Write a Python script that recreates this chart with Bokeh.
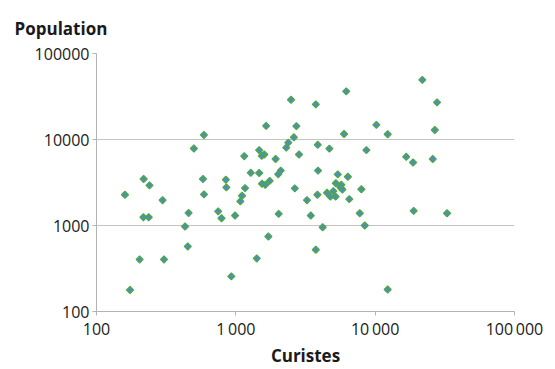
import math
from bokeh.plotting import figure
from bokeh.models import Range1d, FixedTicker, ColumnDataSource, Title
from bokeh.embed import file_html
from bokeh.resources import INLINE

# Data
curistes = [590, 500, 1150, 1280, 218, 6200, 2490, 3750, 1650, 2720,
            10200, 12300, 5980, 2610, 2380, 2300, 3870, 4690, 8650, 1470,
            1600, 1535, 2840, 1930, 2100, 2015, 1470, 3890, 5390, 6370,
            1750, 21800, 27800, 26800, 16700, 18700, 25900, 240, 581, 848,
            855, 1164, 160, 591, 1108, 1077, 298, 458, 747, 789,
            987, 217, 237, 432, 452, 204, 305, 928, 174, 1542,
            1626, 2650, 3850, 3240, 4510, 4770, 5010, 5200, 5220, 5710,
            5630, 5815, 7960, 6520, 2030, 3450, 7755, 4200, 8420, 1712,
            3750, 1413, 12300, 18900, 32800]
population = [11300, 7850, 6400, 4100, 3470, 36300, 29000, 25600, 14400, 14300,
              14800, 11500, 11600, 10600, 9200, 8050, 8670, 7830, 7520, 7520,
              6690, 6460, 6690, 5930, 4350, 3950, 4080, 4350, 3930, 3690,
              3300, 49400, 27000, 12900, 6290, 5400, 5920, 2930, 3470, 3410,
              2775, 2720, 2280, 2300, 2220, 1910, 1970, 1400, 1460, 1214,
              1305, 1250, 1247, 973, 571, 403, 403, 256, 178, 3060,
              2970, 2700, 2280, 1970, 2400, 2165, 2510, 2165, 3100, 2980,
              2775, 2620, 2640, 2025, 1365, 1305, 1387, 955, 1000, 745,
              523, 414, 180, 1480, 1387]

x_ticks = [100, 1000, 10000, 100000]
x_tick_labels = ["100", "1\u2009000", "10\u2009000", "100\u2009000"]
y_ticks = [100, 1000, 10000, 100000]
y_tick_labels = ["100", "1000", "10000", "100000"]
x_title = "Curistes"
y_title = "Population"

FONT = "Open Sans"

p = figure(width=555, height=369, x_axis_type="log", y_axis_type="log",
           x_range=Range1d(100, 100000), y_range=Range1d(100, 100000),
           output_backend="svg", toolbar_location=None,
           min_border_left=96, min_border_right=41, min_border_top=53,
           min_border_bottom=57)
p.outline_line_color = None
p.background_fill_color = "white"
p.border_fill_color = "white"

src = ColumnDataSource(dict(x=curistes, y=population))
p.scatter("x", "y", source=src, marker="square", angle=math.pi / 4, size=5,
          fill_color="#4f8cc0", line_color="#4fab3a", line_width=1.2)

# axes
xa = p.xaxis[0]
xa.ticker = FixedTicker(ticks=x_ticks, minor_ticks=[])
xa.major_label_overrides = {t: l for t, l in zip(x_ticks, x_tick_labels)}
ya = p.yaxis[0]
ya.ticker = FixedTicker(ticks=y_ticks, minor_ticks=[])
ya.major_label_overrides = {t: l for t, l in zip(y_ticks, y_tick_labels)}
for ax in (xa, ya):
    ax.axis_line_color = "#b3b3b3"
    ax.axis_line_width = 1
    ax.major_tick_line_color = "#b3b3b3"
    ax.major_tick_out = 4
    ax.major_tick_in = 0
    ax.minor_tick_line_color = None
    ax.major_label_text_font = FONT
    ax.major_label_text_font_size = "16px"
    ax.major_label_text_color = "#1a1a1a"
xa.major_label_standoff = 2
ya.major_label_standoff = 3

xa.axis_label = x_title
xa.axis_label_text_font = FONT
xa.axis_label_text_font_style = "bold"
xa.axis_label_text_font_size = "17px"
xa.axis_label_text_color = "#1a1a1a"
xa.axis_label_standoff = 1

p.xgrid.grid_line_color = None
p.ygrid.grid_line_color = "#c4c4c4"
p.ygrid.grid_line_width = 1.2
p.ygrid.ticker = FixedTicker(ticks=y_ticks, minor_ticks=[])

p.add_layout(Title(text=y_title, align="left", offset=-82, standoff=28,
                   text_font=FONT, text_font_style="bold",
                   text_font_size="17px", text_color="#1a1a1a"), "above")

open("out.html", "w").write(file_html(p, INLINE))
